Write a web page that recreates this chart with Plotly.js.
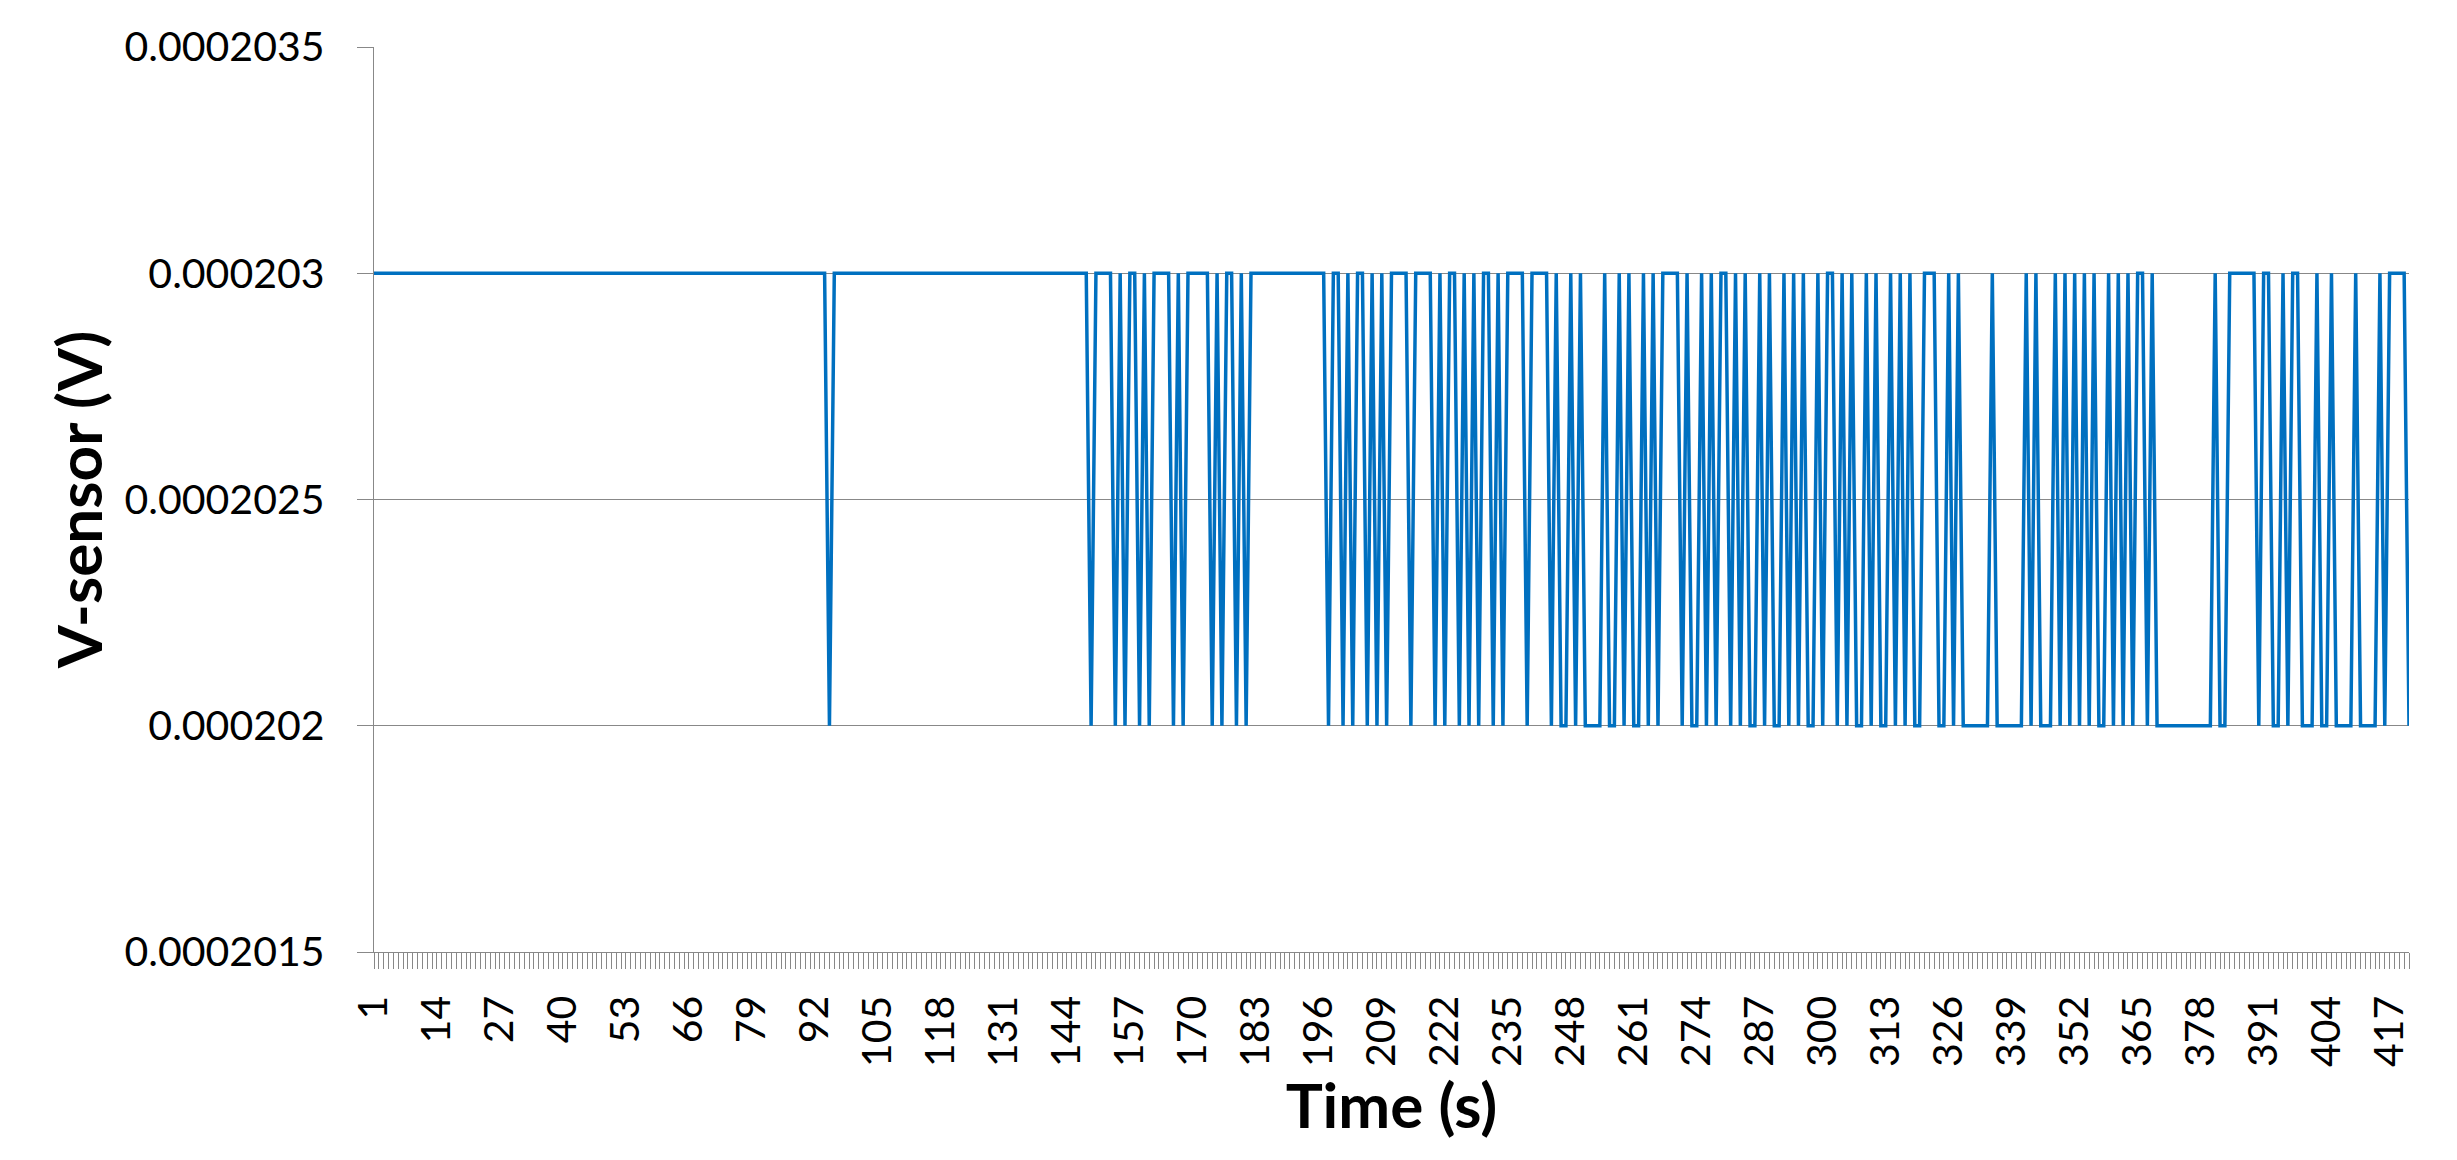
<!DOCTYPE html>
<html>
<head>
<meta charset="utf-8">
<script src="https://cdn.plot.ly/plotly-3.0.1.min.js"></script>
<style>
  html, body { margin: 0; padding: 0; background: #ffffff; }
  #chart { width: 2457px; height: 1160px; }
</style>
</head>
<body>
<div id="chart"></div>
<script>
// Sensor voltage levels observed in the picture
const highLevel = 0.000203;
const lowLevel = 0.000202;

// Reading for each second (1 = 0.000203 V, 0 = 0.000202 V), ten samples per row, t = 1 .. 421
const readingRows = [
  "1111111111", // 1-10
  "1111111111", // 11-20
  "1111111111", // 21-30
  "1111111111", // 31-40
  "1111111111", // 41-50
  "1111111111", // 51-60
  "1111111111", // 61-70
  "1111111111", // 71-80
  "1111111111", // 81-90
  "1111011111", // 91-100
  "1111111111", // 101-110
  "1111111111", // 111-120
  "1111111111", // 121-130
  "1111111111", // 131-140
  "1111111101", // 141-150
  "1110101101", // 151-160
  "0111101011", // 161-170
  "1110101101", // 171-180
  "0111111111", // 181-190
  "1111111011", // 191-200
  "0101101010", // 201-210
  "1111011110", // 211-220
  "1011010101", // 221-230
  "1010111101", // 231-240
  "1110100101", // 241-250
  "0000100101", // 251-260
  "0010101111", // 261-270
  "0100101011", // 271-280
  "0101001010", // 281-290
  "0101010010", // 291-300
  "1101010010", // 301-310
  "1001010100", // 311-320
  "1110010100", // 321-330
  "0000100000", // 331-340
  "0101000101", // 341-350
  "0101010010", // 351-360
  "1010110100", // 361-370
  "0000000000", // 371-380
  "1001111110", // 381-390
  "1100101100", // 391-400
  "0100100001", // 401-410
  "0000101111", // 411-420
  "0"           // 421
];

// Category axis tick labels (every 13th second)
const xTickLabels = [1, 14, 27, 40, 53, 66, 79, 92, 105, 118, 131, 144, 157, 170, 183, 196,
  209, 222, 235, 248, 261, 274, 287, 300, 313, 326, 339, 352, 365, 378, 391, 404, 417];

// Value axis ticks
const yTickValues = [0.0002015, 0.000202, 0.0002025, 0.000203, 0.0002035];
const yTickLabels = ["0.0002015", "0.000202", "0.0002025", "0.000203", "0.0002035"];

const bits = readingRows.join("").split("");
const timeSec = bits.map((b, i) => i + 1);
const vSensor = bits.map(b => (b === "1" ? highLevel : lowLevel));

const axisGray = "#888888";
const tickFont = { family: "Lato, 'Open Sans', sans-serif", size: 41, color: "#000000" };
const titleFont = { family: "Lato, 'Open Sans', sans-serif", size: 62, color: "#000000", weight: "bold" };

const trace = {
  type: "scatter",
  mode: "lines",
  x: timeSec,
  y: vSensor,
  line: { color: "#0070C0", width: 3.5 },
  hoverinfo: "skip"
};

const layout = {
  width: 2457,
  height: 1160,
  margin: { l: 374, r: 48, t: 47, b: 208 },
  paper_bgcolor: "#ffffff",
  plot_bgcolor: "#ffffff",
  showlegend: false,
  xaxis: {
    range: [1, timeSec.length],
    tickmode: "array",
    tickvals: xTickLabels,
    ticktext: xTickLabels.map(String),
    tickangle: -90,
    tickfont: tickFont,
    ticks: "outside",
    ticklen: 16,
    tickwidth: 1,
    tickcolor: axisGray,
    ticklabelstandoff: 10,
    showgrid: false,
    zeroline: false,
    showline: true,
    linecolor: axisGray,
    linewidth: 1.3,
    minor: { tickmode: "linear", tick0: 1, dtick: 1, ticks: "outside", ticklen: 16, tickwidth: 1, tickcolor: axisGray, showgrid: false },
    title: { text: "Time (s)", font: titleFont, standoff: 12 }
  },
  yaxis: {
    range: [0.0002015, 0.0002035],
    tickmode: "array",
    tickvals: yTickValues,
    ticktext: yTickLabels,
    tickfont: tickFont,
    ticks: "outside",
    ticklen: 16,
    tickwidth: 1,
    tickcolor: axisGray,
    ticklabelstandoff: 24,
    showgrid: true,
    gridcolor: axisGray,
    gridwidth: 1.3,
    zeroline: false,
    showline: true,
    linecolor: axisGray,
    linewidth: 1.3,
    title: { text: "V-sensor (V)", font: titleFont, standoff: 2 }
  }
};

Plotly.newPlot("chart", [trace], layout, { staticPlot: true, displayModeBar: false });
</script>
</body>
</html>
